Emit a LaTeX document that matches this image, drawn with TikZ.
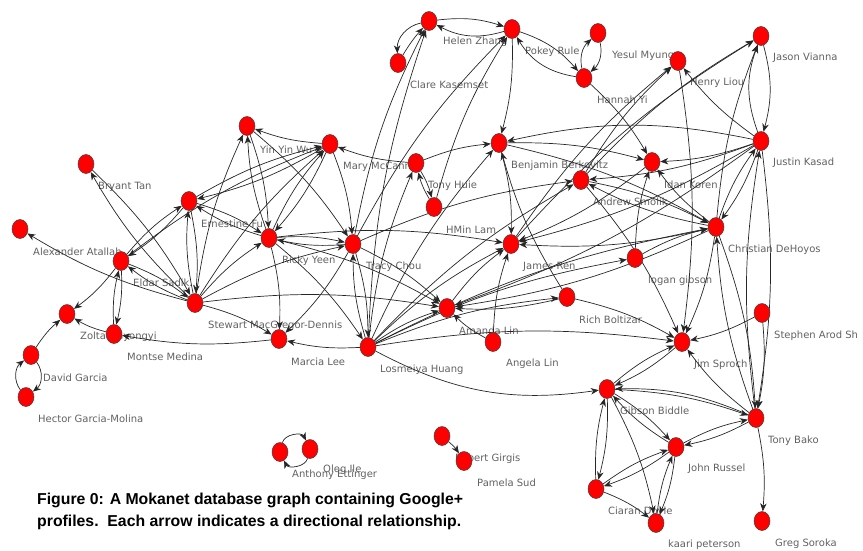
\documentclass[tikz,border=0pt]{standalone}
\usepackage{fontspec}
\setmainfont{DejaVu Sans}
\newfontfamily\capfont{Liberation Sans}
\usetikzlibrary{arrows.meta,shapes.geometric}
\pgfdeclarelayer{lbls}
\pgfdeclarelayer{edges}
\pgfsetlayers{lbls,edges,main}

\tikzset{
 person/.style={ellipse,draw=black!75,fill=red,minimum width=16pt,minimum height=19pt,inner sep=0pt,line width=0.5pt},
 lbl/.style={anchor=west,text=black!62,font=\fontsize{10}{12}\selectfont,inner sep=0pt},
 rel/.style={-{Stealth[length=8pt,width=6.5pt,inset=2.5pt]},draw=black!85,line width=0.7pt,bend left=8},
}

\begin{document}
\begin{tikzpicture}[x=1pt,y=-1pt]
\useasboundingbox (0,0) rectangle (863,550);
\node[person] (hz) at (429,21) {}; \node[person] (ck) at (398,63) {};
\node[person] (pr) at (512,29) {}; \node[person] (hy) at (584,78) {};
\node[person] (ym) at (598,33) {}; \node[person] (hl) at (678,61) {};
\node[person] (jv) at (761,36) {}; \node[person] (jk) at (761,141) {};
\node[person] (ik) at (652,162) {}; \node[person] (as) at (581,180) {};
\node[person] (bb) at (499,143) {}; \node[person] (mm) at (330,144) {};
\node[person] (th) at (416,163) {}; \node[person] (hm) at (434,207) {};
\node[person] (yw) at (247,126) {}; \node[person] (bt) at (86,164) {};
\node[person] (ef) at (189,201) {}; \node[person] (aa) at (20,229) {};
\node[person] (es) at (121,261) {}; \node[person] (sm) at (195,303) {};
\node[person] (ry) at (269,238) {}; \node[person] (tc) at (353,244) {};
\node[person] (zg) at (67,314) {}; \node[person] (mmd) at (114,334) {};
\node[person] (dg) at (31,355) {}; \node[person] (hg) at (26,397) {};
\node[person] (ml) at (279,339) {}; \node[person] (lh) at (368,347) {};
\node[person] (al) at (447,308) {}; \node[person] (an) at (493,342) {};
\node[person] (jr) at (511,244) {}; \node[person] (rb) at (567,297) {};
\node[person] (lg) at (635,258) {}; \node[person] (cd) at (716,227) {};
\node[person] (js) at (682,342) {}; \node[person] (sa) at (762,313) {};
\node[person] (gb) at (607,389) {}; \node[person] (tb) at (756,418) {};
\node[person] (jru) at (676,447) {}; \node[person] (cdo) at (596,489) {};
\node[person] (kp) at (656,523) {}; \node[person] (gs) at (762,521) {};
\node[person] (ae) at (280,452) {}; \node[person] (oi) at (310,449) {};
\node[person] (rg) at (442,436) {}; \node[person] (ps) at (464,461) {};

\begin{pgfonlayer}{lbls}
\node[lbl] (hzl) at (443,42) {Helen Zhang}; \node[lbl] (ckl) at (410,85) {Clare Kasemset};
\node[lbl] (prl) at (525,52) {Pokey Rule}; \node[lbl] (hyl) at (597,100) {Hannah Yi};
\node[lbl] (yml) at (612,56) {Yesul Myung}; \node[lbl] (hll) at (690,83) {Henry Liou};
\node[lbl] (jvl) at (773,58) {Jason Vianna}; \node[lbl] (jkl) at (773,163) {Justin Kasad};
\node[lbl] (ikl) at (664,185) {Idan Koren}; \node[lbl] (asl) at (593,202) {Andrew Smolik};
\node[lbl] (bbl) at (511,166) {Benjamin Berkovitz}; \node[lbl] (mml) at (343,167) {Mary McCann};
\node[lbl] (thl) at (428,186) {Tony Huie}; \node[lbl] (hml) at (446,230) {HMin Lam};
\node[lbl] (ywl) at (260,150) {Yin Yin Wu}; \node[lbl] (btl) at (98,187) {Bryant Tan};
\node[lbl] (efl) at (201,224) {Ernestine Fu}; \node[lbl] (aal) at (33,252) {Alexander Atallah};
\node[lbl] (esl) at (133,283) {Eldar Sadik...}; \node[lbl] (sml) at (208,326) {Stewart MacGregor-Dennis};
\node[lbl] (ryl) at (282,261) {Ricky Yeen}; \node[lbl] (tcl) at (366,267) {Tracy Chou};
\node[lbl] (zgl) at (80,337) {Zoltan Gyongyi}; \node[lbl] (mmdl) at (127,357) {Montse Medina};
\node[lbl] (dgl) at (43,378) {David Garcia}; \node[lbl] (hgl) at (38,419) {Hector Garcia-Molina};
\node[lbl] (mll) at (291,362) {Marcia Lee}; \node[lbl] (lhl) at (380,370) {Losmeiya Huang};
\node[lbl] (all) at (459,331) {Amanda Lin}; \node[lbl] (anl) at (506,364) {Angela Lin};
\node[lbl] (jrl) at (523,267) {James Ren}; \node[lbl] (rbl) at (579,320) {Rich Boltizar};
\node[lbl] (lgl) at (648,281) {logan gibson}; \node[lbl] (cdl) at (728,250) {Christian DeHoyos};
\node[lbl] (jsl) at (694,365) {Jim Sproch}; \node[lbl] (sal) at (774,336) {Stephen Arod Sh};
\node[lbl] (gbl) at (620,411) {Gibson Biddle}; \node[lbl] (tbl) at (768,441) {Tony Bako};
\node[lbl] (jrul) at (688,469) {John Russel}; \node[lbl] (cdol) at (608,512) {Ciaran Doyle};
\node[lbl] (kpl) at (668,545) {kaari peterson}; \node[lbl] (gsl) at (775,544) {Greg Soroka};
\node[lbl] (ael) at (292,475) {Anthony Ettinger}; \node[lbl] (oil) at (323,470) {Oleg Ile};
\node[lbl] (rgl) at (455,459) {Robert Girgis}; \node[lbl] (psl) at (477,483) {Pamela Sud};
\end{pgfonlayer}

\begin{pgfonlayer}{edges}
\foreach \a/\b in {hy/ik,tc/hz,lh/hz,tc/pr,hm/pr,pr/bb,bb/jr,
 mm/yw,th/mm,th/bb,th/hm,hm/th,lh/th,sm/mm,ry/mm,es/mm,mm/ry,mm/ef,ef/mm,mm/tc,yw/tc,yw/ry,sm/yw,ry/yw,
 es/ef,ef/es,sm/ef,ef/sm,ef/ry,ry/ef,sm/bt,bt/sm,sm/aa,es/sm,sm/es,es/zg,es/mmd,mmd/es,mmd/zg,dg/zg,
 sm/ry,sm/tc,sm/al,sm/ml,ry/ml,tc/ml,lh/ml,ml/mmd,
 tc/ry,ry/tc,ry/al,ry/lh,tc/lh,lh/tc,tc/al,tc/as,ry/jr,
 lh/al,lh/jr,lh/as,lh/bb,lh/cd,lh/lg,lh/rb,lh/js,an/al,an/jr,al/jr,rb/bb,rb/js,rb/al,
 lg/cd,lg/ik,bb/cd,bb/ik,jk/ik,jk/as,jk/jr,jk/cd,cd/jk,jk/hl,jk/tb,tb/jk,jk/al,
 as/jv,as/hl,as/js,as/cd,cd/as,cd/jv,cd/js,cd/jr,cd/al,cd/ik,cd/tb,tb/cd,hl/js,ik/jr,jr/hl,jr/jv,
 sa/js,sa/tb,tb/js,gb/tb,tb/jru,jru/tb,tb/gs,gb/js,js/gb,gb/cdo,cdo/gb,gb/jru,jru/gb,gb/kp,
 jru/cdo,cdo/jru,kp/jru,jru/kp,cdo/kp,rg/ps}
 \draw[rel] (\a) to (\b);
\draw[rel,bend left=22] (pr) to (hz); \draw[rel,bend left=12] (hz) to (pr);
\draw[rel,bend right=40] (hz) to (ck); \draw[rel,bend left=5] (ck) to (hz);
\draw[rel,bend left=25] (hy) to (pr); \draw[rel,bend left=15] (pr) to (hy);
\draw[rel,bend left=30] (ym) to (hy); \draw[rel,bend left=30] (hy) to (ym);
\draw[rel,bend left=20] (jk) to (jv); \draw[rel,bend left=15] (jv) to (jk);
\draw[rel,bend right=12] (jk) to (bb); \draw[rel,bend right=18] (lh) to (gb);
\draw[rel,bend right=12] (tb) to (gb);
\draw[rel,bend left=45] (dg) to (hg); \draw[rel,bend left=45] (hg) to (dg);
\draw[rel,bend left=70] (oi) to (ae); \draw[rel,bend left=70] (ae) to (oi);
\end{pgfonlayer}

\node[anchor=west,align=left,inner sep=0pt,font=\capfont\bfseries\fontsize{15.8}{22}\selectfont] (caption) at (37,511)
 {Figure 0: A Mokanet database graph containing Google+\\profiles.\ \ Each arrow indicates a directional relationship.};
\end{tikzpicture}
\end{document}
